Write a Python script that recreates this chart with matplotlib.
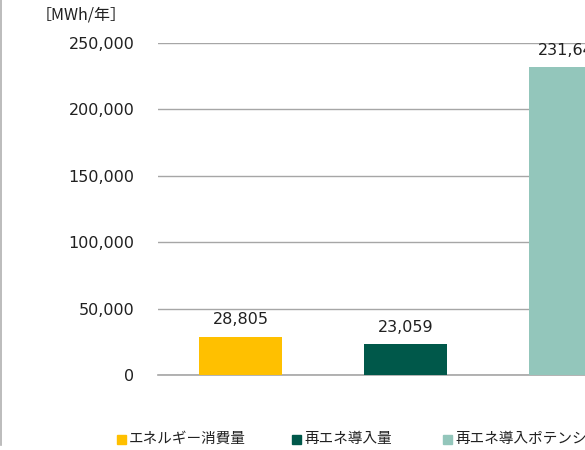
import matplotlib.pyplot as plt
from matplotlib.lines import Line2D

plt.rcParams['font.family'] = ['DejaVu Sans', 'Noto Sans CJK JP']

# data
categories = ['エネルギー消費量', '再エネ導入量', '再エネ導入ポテンシャル']
values = [28805, 23059, 231645]
colors = ['#FFC000', '#00584A', '#93C6BB']
yticks = [0, 50000, 100000, 150000, 200000, 250000]

fig = plt.figure(figsize=(5.85, 4.5), dpi=100)
# axes run past the right edge, like the cropped original
ax = fig.add_axes([158 / 585, 75 / 450, 495 / 585, 332 / 450])

x = range(len(values))
ax.bar(x, values, width=0.5, color=colors, zorder=3)
for i, v in zip(x, values):
    ax.text(i, v + 7000, f'{v:,}', ha='center', va='bottom', fontsize=11.5,
            color='#202020', clip_on=False)

ax.set_xlim(-0.5, 2.5)
ax.set_ylim(0, 250000)
ax.set_yticks(yticks)
ax.set_yticklabels([f'{t:,}' for t in yticks], fontsize=11.5, color='#202020')
ax.tick_params(axis='y', length=0, pad=17)
ax.set_xticks([])
ax.grid(axis='y', color='#a6a6a6', linewidth=1, zorder=0)
for s in ['top', 'right', 'left']:
    ax.spines[s].set_visible(False)
ax.spines['bottom'].set_color('#a6a6a6')
ax.spines['bottom'].set_linewidth(1.2)

fig.text(36 / 585, 1 - 15 / 450, '［MWh/年］', fontsize=11.5, color='#202020',
         va='center', ha='left', family=['Noto Sans CJK JP'])

# legend
leg_x = [117, 292, 443]
for lx, lab, c in zip(leg_x, categories, colors):
    fig.patches.append(plt.Rectangle((lx / 585, 1 - 444 / 450), 9 / 585, 9 / 450,
                                     transform=fig.transFigure, color=c))
    fig.text((lx + 12) / 585, 1 - 439 / 450, lab, fontsize=10.5, color='#202020',
             va='center', ha='left', family=['Noto Sans CJK JP'])

# left border line
fig.add_artist(Line2D([1 / 585, 1 / 585], [1 - 445 / 450, 1], color='#b0b0b0',
                      linewidth=1.2, transform=fig.transFigure))

fig.savefig('out.png', dpi=100)
